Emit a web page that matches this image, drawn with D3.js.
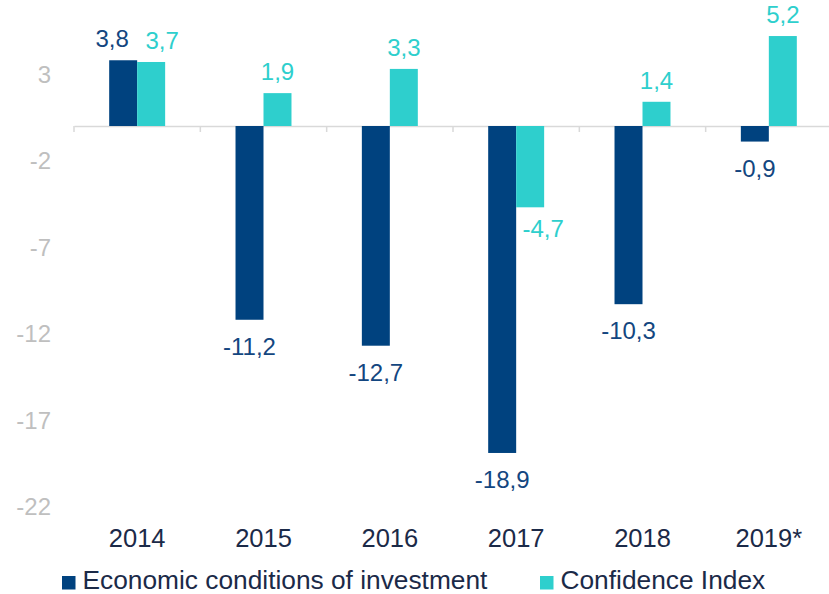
<!DOCTYPE html>
<html>
<head>
<meta charset="utf-8">
<script src="https://cdn.jsdelivr.net/npm/d3@7"></script>
<style>
  html, body { margin: 0; padding: 0; background: #ffffff; }
  svg { display: block; font-family: "Liberation Sans", Arial, sans-serif; }
</style>
</head>
<body>
<svg id="chart" width="829" height="594"></svg>
<script>
const categories = ["2014", "2015", "2016", "2017", "2018", "2019*"];
const seriesNames = ["Economic conditions of investment", "Confidence Index"];
const investment = [3.8, -11.2, -12.7, -18.9, -10.3, -0.9];
const confidence = [3.7, 1.9, 3.3, -4.7, 1.4, 5.2];
const yTicks = [3, -2, -7, -12, -17, -22];

const colors = ["#00427F", "#2ECFCD"];
const labelColors = ["#134680", "#2ECFCD"];

const svg = d3.select("#chart");

const x0 = d3.scaleBand()
  .domain(categories)
  .range([74, 832])
  .paddingInner(0.557)
  .paddingOuter(0.2785);

const x1 = d3.scaleBand()
  .domain([0, 1])
  .range([0, x0.bandwidth()]);

const y = d3.scaleLinear()
  .domain([-22, 3])
  .range([506.6, 74.1]);

// Y tick labels
svg.append("g").selectAll("text")
  .data(yTicks)
  .join("text")
  .attr("x", 51)
  .attr("y", d => y(d))
  .attr("dy", "0.36em")
  .attr("text-anchor", "end")
  .attr("font-size", 24)
  .attr("fill", "#BFBFBF")
  .text(d => d);

// Zero axis with ticks
const axis = svg.append("g")
  .attr("transform", `translate(0,${y(0)})`)
  .call(d3.axisBottom(x0).tickSize(0).tickFormat(""));
axis.select(".domain").attr("stroke", "#D9D9D9").attr("stroke-width", 1.5);
const boundaries = d3.range(categories.length + 1).map(i => x0.range()[0] + i * x0.step());
axis.selectAll(".bnd")
  .data(boundaries)
  .join("line")
  .attr("x1", d => d).attr("x2", d => d)
  .attr("y1", 0).attr("y2", 6)
  .attr("stroke", "#D9D9D9").attr("stroke-width", 1.5);

// Bars
const rows = categories.map((c, i) => ({ cat: c, vals: [investment[i], confidence[i]] }));
const groups = svg.append("g").selectAll("g")
  .data(rows)
  .join("g")
  .attr("transform", d => `translate(${x0(d.cat)},0)`);

groups.selectAll("rect")
  .data(d => d.vals.map((v, s) => ({ v, s, cat: d.cat })))
  .join("rect")
  .attr("x", d => x1(d.s))
  .attr("width", x1.bandwidth())
  .attr("y", d => y(Math.max(0, d.v)))
  .attr("height", d => Math.abs(y(d.v) - y(0)))
  .attr("fill", d => colors[d.s]);

// Data labels
function nudge(d) {
  if (d.cat === "2014") return { dx: d.s === 0 ? -11 : 11, dy: 0 };
  if (d.cat === "2017" && d.s === 1) return { dx: 13, dy: -5 };
  return { dx: 0, dy: 0 };
}
const fmt = v => d3.format(".1f")(v).replace(".", ",").replace("−", "-");
groups.selectAll("text")
  .data(d => d.vals.map((v, s) => ({ v, s, cat: d.cat })))
  .join("text")
  .attr("x", d => x1(d.s) + x1.bandwidth() / 2 + nudge(d).dx)
  .attr("y", d => (d.v >= 0 ? y(d.v) - 13 : y(d.v) + 35) + nudge(d).dy)
  .attr("text-anchor", "middle")
  .attr("font-size", 24)
  .attr("fill", d => labelColors[d.s])
  .text(d => fmt(d.v));

// Category labels
svg.append("g").selectAll("text")
  .data(categories)
  .join("text")
  .attr("x", d => x0(d) + x0.bandwidth() / 2)
  .attr("y", 547)
  .attr("text-anchor", "middle")
  .attr("font-size", 25.5)
  .attr("fill", "#1B2A48")
  .text(d => d);

// Legend
const legendX = [62, 540];
const legend = svg.append("g").selectAll("g")
  .data(seriesNames)
  .join("g")
  .attr("transform", (d, i) => `translate(${legendX[i]},576)`);
legend.append("rect")
  .attr("width", 13.5).attr("height", 13.5)
  .attr("fill", (d, i) => colors[i]);
legend.append("text")
  .attr("x", 20.5)
  .attr("y", 12.5)
  .attr("font-size", 26.3)
  .attr("fill", "#1B2A48")
  .text(d => d);
</script>
</body>
</html>
